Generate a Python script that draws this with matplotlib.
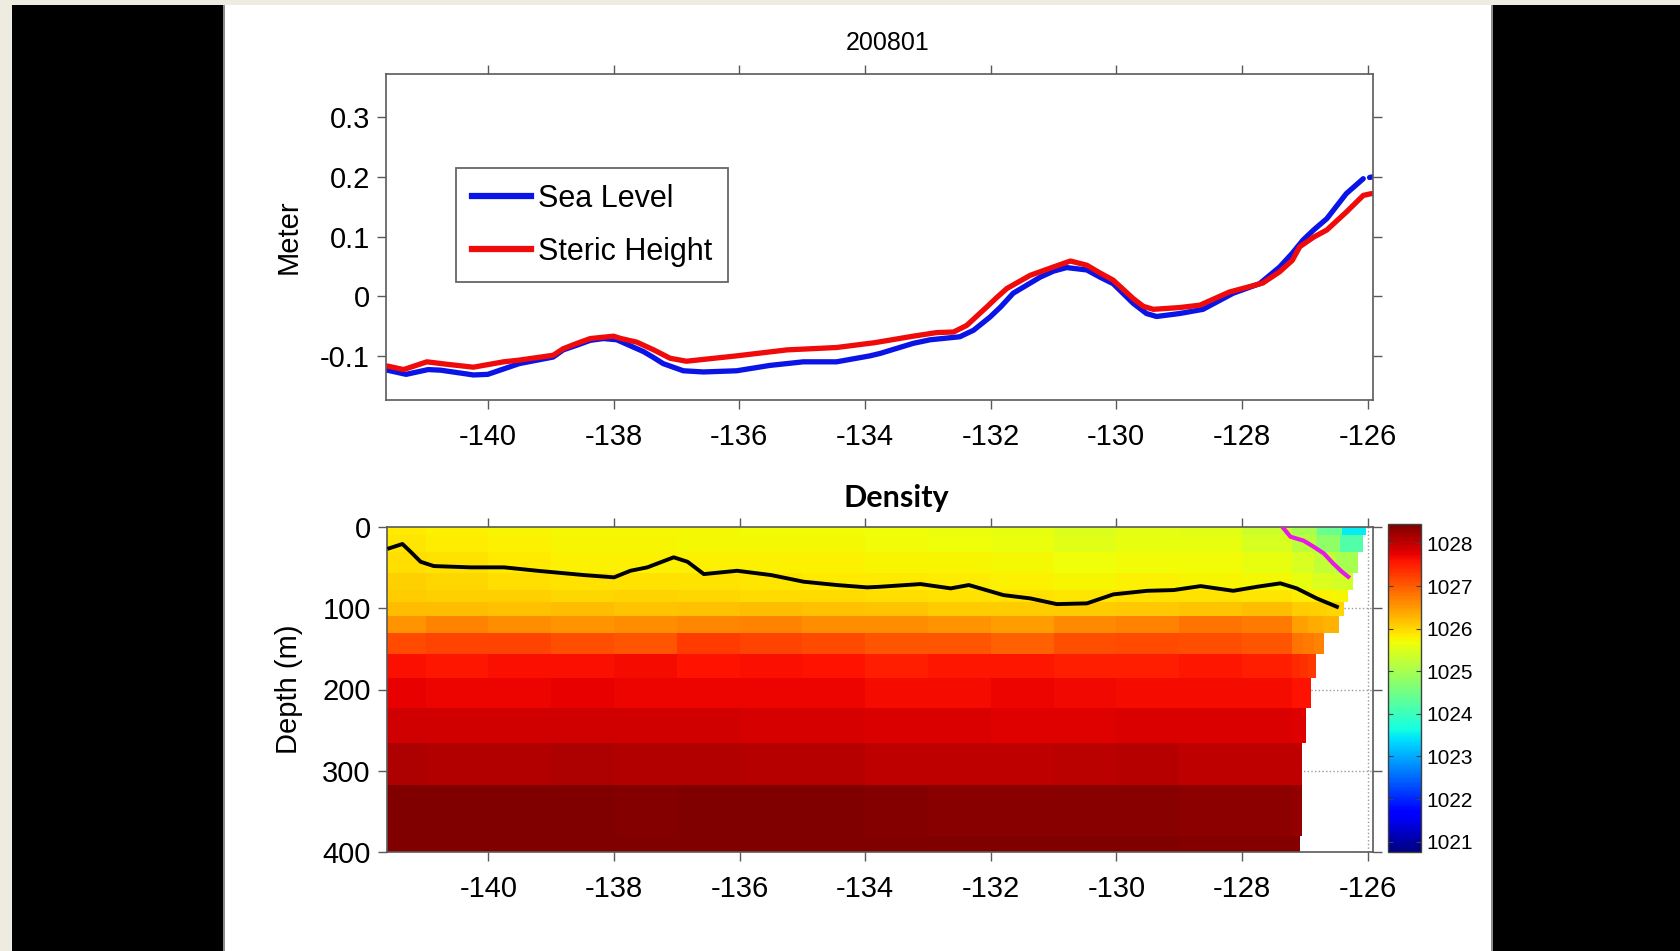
import numpy as np
import matplotlib
matplotlib.use("Agg")
import matplotlib.pyplot as plt
from matplotlib.patches import Rectangle
from matplotlib.lines import Line2D
from matplotlib import font_manager

# ---------------- data ----------------
title_text = "200801"
panel2_title = "Density"

# Top panel: sea level & steric height along the section (meters)
sl_lon = [-141.6, -141.3, -140.95, -140.75, -140.23, -140.0, -139.5, -138.96, -138.8,
          -138.58, -138.37, -138.16, -137.95, -137.52, -137.36, -137.21, -137.05, -136.89,
          -136.57, -136.04, -135.51, -134.98, -134.45, -133.92, -133.76, -133.23, -132.96,
          -132.49, -132.27, -132.01, -131.84, -131.64, -131.21, -131.0, -130.79, -130.47,
          -130.26, -130.05, -129.73, -129.52, -129.36, -128.99, -128.62, -128.14, -127.72,
          -127.40, -127.2, -127.03, -126.86, -126.65, -126.34, -126.07, np.nan, -125.97, -125.93]
sea_level = [-0.124, -0.131, -0.123, -0.124, -0.132, -0.131, -0.113, -0.102, -0.090,
             -0.082, -0.074, -0.071, -0.073, -0.093, -0.103, -0.113, -0.119, -0.125,
             -0.127, -0.125, -0.116, -0.110, -0.110, -0.100, -0.096, -0.079, -0.073,
             -0.068, -0.057, -0.035, -0.018, 0.005, 0.032, 0.042, 0.048, 0.044,
             0.032, 0.021, -0.012, -0.029, -0.034, -0.029, -0.022, 0.005, 0.021,
             0.049, 0.072, 0.094, 0.111, 0.130, 0.172, 0.197, np.nan, 0.199, 0.200]

sh_lon = [-141.6, -141.34, -140.97, -140.66, -140.23, -139.75, -139.49, -138.96, -138.8,
          -138.58, -138.37, -138.0, -137.88, -137.63, -137.36, -137.10, -136.84, -136.04,
          -135.24, -134.45, -133.85, -133.23, -132.86, -132.59, -132.38, -132.06, -131.9,
          -131.74, -131.37, -131.0, -130.73, -130.47, -130.26, -130.05, -129.73, -129.57,
          -129.41, -128.99, -128.67, -128.20, -127.67, -127.40, -127.2, -127.08, -126.86,
          -126.65, -126.34, -126.07, -125.94]
steric_height = [-0.117, -0.123, -0.110, -0.114, -0.119, -0.110, -0.107, -0.099, -0.088,
                 -0.079, -0.071, -0.067, -0.071, -0.077, -0.090, -0.104, -0.109, -0.100,
                 -0.090, -0.086, -0.078, -0.067, -0.061, -0.060, -0.049, -0.018, -0.002,
                 0.013, 0.035, 0.049, 0.059, 0.052, 0.039, 0.027, -0.004, -0.017,
                 -0.022, -0.019, -0.015, 0.007, 0.022, 0.041, 0.060, 0.083, 0.099,
                 0.111, 0.141, 0.169, 0.172]

legend_labels = ["Sea Level", "Steric Height"]

top_xticks = [-140, -138, -136, -134, -132, -130, -128, -126]
top_xticklabels = ["-140", "-138", "-136", "-134", "-132", "-130", "-128", "-126"]
top_yticks = [-0.1, 0.0, 0.1, 0.2, 0.3]
top_yticklabels = ["-0.1", "0", "0.1", "0.2", "0.3"]
bot_yticks = [0, 100, 200, 300, 400]
bot_yticklabels = ["0", "100", "200", "300", "400"]
cbar_ticks = [1021, 1022, 1023, 1024, 1025, 1026, 1027, 1028]

# Bottom panel: density section (kg/m^3)
depth_edges = [0, 10, 30, 55.76, 77.85, 92.33, 109.73, 130.67, 155.85, 186.13,
               222.48, 266.04, 318.13, 380.21, 400]
lon_edges = [-141.62, -141.0, -140.0, -139.0, -138.0, -137.0, -136.0, -135.0, -134.0,
             -133.0, -132.0, -131.0, -130.0, -129.0, -128.0, -127.2]
# eastern limit of data for each depth row (shelf/coast)
east_limit = [-126.02, -126.07, -126.15, -126.24, -126.31, -126.37, -126.46, -126.69,
              -126.83, -126.91, -126.99, -127.05, -127.05, -127.08]
density = [
    [1025.85, 1025.80, 1025.75, 1025.72, 1025.72, 1025.72, 1025.70, 1025.70, 1025.68, 1025.65, 1025.60, 1025.50, 1025.58, 1025.55, 1025.35, 1025.00, 1024.40, 1023.50],
    [1025.88, 1025.82, 1025.78, 1025.75, 1025.75, 1025.74, 1025.72, 1025.72, 1025.70, 1025.68, 1025.64, 1025.56, 1025.62, 1025.60, 1025.45, 1025.20, 1024.80, 1024.20],
    [1025.95, 1025.90, 1025.85, 1025.80, 1025.80, 1025.80, 1025.78, 1025.78, 1025.76, 1025.75, 1025.72, 1025.68, 1025.70, 1025.70, 1025.60, 1025.45, 1025.25, 1025.00],
    [1026.05, 1026.00, 1025.95, 1025.90, 1025.92, 1025.90, 1025.88, 1025.86, 1025.84, 1025.82, 1025.80, 1025.76, 1025.78, 1025.76, 1025.72, 1025.62, 1025.50, 1025.40],
    [1026.10, 1026.05, 1026.05, 1026.00, 1026.02, 1026.00, 1025.98, 1025.98, 1025.95, 1025.92, 1025.90, 1025.88, 1025.90, 1025.90, 1025.88, 1025.82, 1025.78, 1025.75],
    [1026.22, 1026.20, 1026.18, 1026.20, 1026.15, 1026.18, 1026.20, 1026.18, 1026.15, 1026.10, 1026.08, 1026.10, 1026.12, 1026.15, 1026.20, 1026.10, 1026.05, 1026.00],
    [1026.55, 1026.70, 1026.60, 1026.55, 1026.60, 1026.65, 1026.70, 1026.60, 1026.60, 1026.55, 1026.48, 1026.62, 1026.70, 1026.80, 1026.75, 1026.45, 1026.35, 1026.30],
    [1027.15, 1027.20, 1027.20, 1027.10, 1027.05, 1027.25, 1027.20, 1027.15, 1027.05, 1027.05, 1026.95, 1027.10, 1027.15, 1027.10, 1027.05, 1026.80, 1026.75, 1026.70],
    [1027.62, 1027.55, 1027.62, 1027.62, 1027.64, 1027.60, 1027.62, 1027.60, 1027.50, 1027.55, 1027.55, 1027.50, 1027.50, 1027.55, 1027.50, 1027.40, 1027.35, 1027.30],
    [1027.75, 1027.72, 1027.72, 1027.74, 1027.72, 1027.72, 1027.70, 1027.70, 1027.66, 1027.66, 1027.70, 1027.68, 1027.65, 1027.65, 1027.66, 1027.60, 1027.60, 1027.60],
    [1027.90, 1027.88, 1027.88, 1027.90, 1027.88, 1027.88, 1027.86, 1027.86, 1027.84, 1027.82, 1027.80, 1027.80, 1027.84, 1027.84, 1027.82, 1027.80, 1027.80, 1027.80],
    [1028.12, 1028.10, 1028.10, 1028.12, 1028.10, 1028.10, 1028.08, 1028.06, 1028.02, 1028.00, 1028.00, 1028.05, 1028.08, 1028.02, 1028.00, 1028.00, 1028.00, 1028.00],
    [1028.42, 1028.44, 1028.44, 1028.44, 1028.40, 1028.44, 1028.44, 1028.44, 1028.40, 1028.38, 1028.38, 1028.36, 1028.38, 1028.35, 1028.33, 1028.30, 1028.30, 1028.30],
    [1028.45, 1028.45, 1028.45, 1028.45, 1028.45, 1028.45, 1028.45, 1028.45, 1028.45, 1028.43, 1028.43, 1028.42, 1028.42, 1028.40, 1028.40, 1028.40, 1028.40, 1028.40],
]
density_min, density_max = 1020.75, 1028.45

# black line (e.g. mixed-layer depth) and magenta line in the density panel
mld_lon = [-141.58, -141.37, -141.24, -141.08, -140.87, -140.28, -139.75, -139.22, -138.48,
           -138.0, -137.74, -137.47, -137.05, -136.83, -136.57, -136.04, -135.5, -134.98,
           -134.45, -133.97, -133.76, -133.12, -132.64, -132.35, -131.8, -131.37, -130.95,
           -130.47, -130.05, -129.51, -129.09, -128.66, -128.14, -127.76, -127.39, -127.13,
           -126.81, -126.49]
mld_depth = [25.9, 20.6, 30.1, 42.5, 47.8, 49.4, 49.4, 53.6, 58.9,
             61.7, 53.6, 49.4, 37.0, 42.5, 57.7, 53.6, 58.9, 67.1,
             71.2, 74.1, 73.3, 70.0, 75.3, 71.2, 83.6, 87.7, 94.7,
             93.8, 82.7, 78.3, 77.4, 72.5, 78.3, 73.3, 69.1, 75.3,
             87.7, 98.0]
mag_lon = [-127.34, -127.23, -127.02, -126.86, -126.70, -126.55, -126.41, -126.31]
mag_depth = [1.2, 11.6, 16.5, 24.0, 32.1, 44.5, 54.8, 61.0]

# ---------------- style ----------------
W, H = 1681, 951
plt.rcParams['font.family'] = ['Liberation Sans', 'DejaVu Sans']
plt.rcParams['axes.unicode_minus'] = False

def has_font(name):
    try:
        font_manager.findfont(name, fallback_to_default=False)
        return True
    except Exception:
        return False

bold_family = ['Lato', 'DejaVu Sans'] if has_font('Lato') else ['DejaVu Sans']

spine_c = '#5a5a5a'
blue_c = '#0a14e6'
red_c = '#f00a0a'

fig = plt.figure(figsize=(W / 100, H / 100), dpi=100)
fig.patch.set_facecolor('#EEEBE1')

def fx(px):
    return px / W

def fy(py):
    return 1 - py / H

# slide-like background
fig.add_artist(Rectangle((fx(12), 0), fx(211), fy(5), transform=fig.transFigure,
                         facecolor='black', edgecolor='none', zorder=-3))
fig.add_artist(Rectangle((fx(223), 0), fx(1270), fy(5), transform=fig.transFigure,
                         facecolor='#8c8c8c', edgecolor='none', zorder=-3))
fig.add_artist(Rectangle((fx(225), 0), fx(1266), fy(5), transform=fig.transFigure,
                         facecolor='white', edgecolor='none', zorder=-2))
fig.add_artist(Rectangle((fx(1493), 0), fx(W - 1493), fy(5), transform=fig.transFigure,
                         facecolor='black', edgecolor='none', zorder=-3))

xlim = (-141.62, -125.92)

# ---------------- top panel ----------------
ax1 = fig.add_axes([fx(386), fy(400), fx(1372.7 - 386), (400 - 74.3) / H])
ax1.plot(sl_lon, sea_level, color=blue_c, lw=3.8, solid_capstyle='round',
         solid_joinstyle='round')
ax1.plot(sh_lon, steric_height, color=red_c, lw=3.8, solid_capstyle='round',
         solid_joinstyle='round')
ax1.set_xlim(*xlim)
ax1.set_ylim(-0.174, 0.372)
ax1.set_xticks(top_xticks)
ax1.set_xticklabels(top_xticklabels)
ax1.set_yticks(top_yticks)
ax1.set_yticklabels(top_yticklabels)
ax1.set_ylabel("Meter", fontsize=21)
ax1.yaxis.set_label_coords((303 - 386) / (1372.7 - 386), 0.5)

handles = [Line2D([], [], color=blue_c, lw=4.5), Line2D([], [], color=red_c, lw=4.5)]
leg = ax1.legend(handles, legend_labels, loc='upper left',
                 bbox_to_anchor=(fx(455.7), fy(167.7)), bbox_transform=fig.transFigure,
                 prop={'size': 22}, frameon=True, fancybox=False,
                 borderaxespad=0, borderpad=0.52, labelspacing=0.75, handlelength=1.95,
                 handletextpad=0.22)
leg.get_frame().set_edgecolor('#404040')
leg.get_frame().set_linewidth(1.3)

# ---------------- bottom panel ----------------
ax2 = fig.add_axes([fx(386.7), fy(851.7), fx(1372.7 - 386.7), (851.7 - 527.3) / H])
ax2.set_axisbelow(True)
ax2.grid(True, linestyle=':', color='#9a9a9a', linewidth=1.0, zorder=0)
mesh = None
n_coast = len(density[0]) - (len(lon_edges) - 1)
for i in range(len(depth_edges) - 1):
    coast = np.linspace(lon_edges[-1], east_limit[i], n_coast + 1)[1:]
    xe = np.concatenate([lon_edges, coast])
    ye = [depth_edges[i], depth_edges[i + 1]]
    mesh = ax2.pcolormesh(xe, ye, np.array([density[i]]), cmap='jet',
                          vmin=density_min, vmax=density_max, shading='flat',
                          edgecolors='none', antialiased=False, zorder=1)
ax2.plot(mld_lon, mld_depth, color='black', lw=2.8, zorder=3, solid_joinstyle='round')
ax2.plot(mag_lon, mag_depth, color='#e619e6', lw=3.0, zorder=3, solid_joinstyle='round')
ax2.set_xlim(*xlim)
ax2.set_ylim(400, 0)
ax2.set_xticks(top_xticks)
ax2.set_xticklabels(top_xticklabels)
ax2.set_yticks(bot_yticks)
ax2.set_yticklabels(bot_yticklabels)
ax2.set_ylabel("Depth (m)", fontsize=21)
ax2.yaxis.set_label_coords((303 - 386.7) / (1372.7 - 386.7), 0.5)

for ax in (ax1, ax2):
    ax.tick_params(direction='out', length=6.5, width=1.0, top=True, right=True,
                   labelsize=21, color=spine_c, labelcolor='black')
    ax.tick_params(axis='x', pad=10)
    ax.tick_params(axis='y', pad=5)
    for s in ax.spines.values():
        s.set_color(spine_c)
        s.set_linewidth(1.2)

# colorbar
cax = fig.add_axes([fx(1387.7), fy(852.3), fx(1421 - 1387.7), (852.3 - 524.3) / H])
cb = fig.colorbar(mesh, cax=cax, ticks=cbar_ticks)
cb.ax.tick_params(direction='in', length=3.5, width=0.8, left=True, right=True,
                  labelsize=15, color='#404040', pad=4)
cb.ax.set_yticklabels([str(t) for t in cbar_ticks])
cb.outline.set_edgecolor('#404040')
cb.outline.set_linewidth(1.0)

# titles
fig.text(fx(888), fy(43), title_text, ha='center', va='center', fontsize=18)
fig.text(fx(896), fy(498), panel2_title, ha='center', va='center', fontsize=22,
         fontweight='bold', family=bold_family)

fig.savefig("out.png", dpi=100, facecolor=fig.get_facecolor())
